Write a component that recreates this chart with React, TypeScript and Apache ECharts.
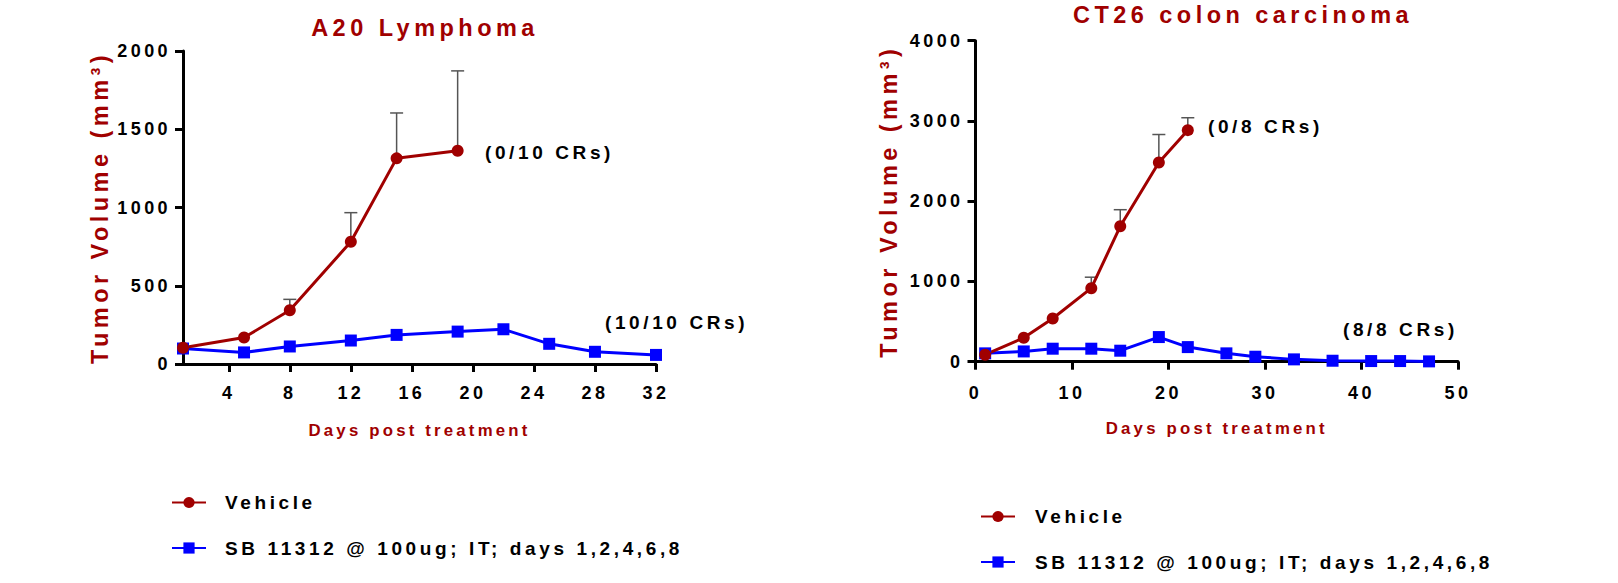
import React, { useEffect, useRef } from 'react';
import * as echarts from 'echarts';

const RED = '#a00000';
const BLUE = '#0000ff';
const ERR = '#555555';
const FONT = "'Liberation Sans', Arial, Helvetica, sans-serif";

const seriesNames = ['Vehicle', 'SB 11312 @ 100ug; IT; days 1,2,4,6,8'];
const panelTitles = ['A20 Lymphoma', 'CT26 colon carcinoma'];
const xAxisName = 'Days post treatment';
const yAxisName = 'Tumor Volume (mm³)';

// A20 Lymphoma
const a20VehicleDays = [1, 5, 8, 12, 15, 19];
const a20VehicleMean = [104, 169, 343, 781, 1314, 1363];
const a20VehicleUpper = [null, null, 413, 967, 1604, 1873];
const a20SbDays = [1, 5, 8, 12, 15, 19, 22, 25, 28, 32];
const a20SbMean = [99, 74, 112, 150, 186, 207, 222, 129, 78, 58];
const a20XMin = 1;
const a20XTicks = [4, 8, 12, 16, 20, 24, 28, 32];
const a20YTicks = [0, 500, 1000, 1500, 2000];
const a20Notes = ['(0/10 CRs)', '(10/10 CRs)'];

// CT26 colon carcinoma
const ct26VehicleDays = [1, 5, 8, 12, 15, 19, 22];
const ct26VehicleMean = [87, 298, 539, 916, 1687, 2483, 2885];
const ct26VehicleUpper = [null, null, null, 1053, 1894, 2831, 3040];
const ct26SbDays = [1, 5, 8, 12, 15, 19, 22, 26, 29, 33, 37, 41, 44, 47];
const ct26SbMean = [104, 128, 162, 162, 137, 307, 182, 104, 62, 29, 12, 8, 8, 4];
const ct26XTicks = [0, 10, 20, 30, 40, 50];
const ct26YTicks = [0, 1000, 2000, 3000, 4000];
const ct26Notes = ['(0/8 CRs)', '(8/8 CRs)'];

const pairs = (xs: number[], ys: number[]) => xs.map((x, i) => [x, ys[i]]);

function errorSeries(days: number[], mean: number[], upper: (number | null)[], idx: number) {
  const data: number[][] = [];
  days.forEach((d, i) => {
    const u = upper[i];
    if (u != null) data.push([d, mean[i], u]);
  });
  return {
    type: 'custom',
    xAxisIndex: idx,
    yAxisIndex: idx,
    z: 1,
    silent: true,
    clip: false,
    data,
    encode: { x: 0, y: [1, 2] },
    renderItem: (_params: any, api: any) => {
      const p0 = api.coord([api.value(0), api.value(1)]);
      const p1 = api.coord([api.value(0), api.value(2)]);
      const style = { stroke: ERR, lineWidth: 1.5 };
      return {
        type: 'group',
        children: [
          { type: 'line', shape: { x1: p0[0], y1: p0[1], x2: p1[0], y2: p1[1] }, style },
          { type: 'line', shape: { x1: p1[0] - 6.5, y1: p1[1], x2: p1[0] + 6.5, y2: p1[1] }, style },
        ],
      };
    },
  };
}

function lineSeries(name: string, data: number[][], idx: number, color: string, symbol: string) {
  return {
    type: 'line',
    name,
    xAxisIndex: idx,
    yAxisIndex: idx,
    data,
    z: 3,
    clip: false,
    symbol,
    symbolSize: 12,
    itemStyle: { color },
    lineStyle: { color, width: 3 },
  };
}

const axisCommon = {
  axisLine: { show: true, onZero: false, lineStyle: { color: '#000', width: 3 } },
  axisTick: { show: true, length: 8, lineStyle: { color: '#000', width: 3 } },
  splitLine: { show: false },
};

const plain = (v: number) => String(v);

function xAxis(idx: number, min: number, ticks: number[], margin: number) {
  return {
    type: 'value',
    gridIndex: idx,
    min,
    max: ticks[ticks.length - 1],
    name: xAxisName,
    nameLocation: 'middle',
    nameGap: 58,
    nameTextStyle: { color: RED, fontFamily: FONT, fontWeight: 'bold', fontSize: 16.8 },
    ...axisCommon,
    axisTick: { ...axisCommon.axisTick, customValues: ticks },
    axisLabel: {
      customValues: ticks,
      formatter: plain,
      margin,
      color: '#000',
      fontFamily: FONT,
      fontWeight: 'bold',
      fontSize: 18,
    },
  };
}

function yAxis(idx: number, ticks: number[], nameGap: number) {
  return {
    type: 'value',
    gridIndex: idx,
    min: ticks[0],
    max: ticks[ticks.length - 1],
    name: yAxisName,
    nameLocation: 'middle',
    nameGap,
    nameTextStyle: { color: RED, fontFamily: FONT, fontWeight: 'bold', fontSize: 23.5 },
    ...axisCommon,
    axisTick: { ...axisCommon.axisTick, customValues: ticks },
    axisLabel: {
      customValues: ticks,
      formatter: plain,
      margin: 12,
      color: '#000',
      fontFamily: FONT,
      fontWeight: 'bold',
      fontSize: 18,
    },
  };
}

function legend(left: number, top: number, pad: number) {
  return {
    data: seriesNames,
    orient: 'vertical',
    left,
    top,
    padding: 0,
    itemWidth: 34,
    itemHeight: 14,
    itemGap: 26.5,
    selectedMode: false,
    textStyle: {
      color: '#000',
      fontFamily: FONT,
      fontWeight: 'bold',
      fontSize: 19,
      lineHeight: 14,
      padding: [0, 0, 0, pad],
    },
  };
}

function note(text: string, x: number, y: number) {
  return {
    type: 'text',
    x,
    y,
    silent: true,
    style: {
      text,
      fill: '#000',
      font: `bold 19px ${FONT}`,
      align: 'left',
      verticalAlign: 'middle',
    },
  };
}

export default function App() {
  const ref = useRef<HTMLDivElement>(null);

  useEffect(() => {
    if (!ref.current) return;
    const chart = echarts.init(ref.current, undefined, { renderer: 'svg' });
    const option: any = {
      animation: false,
      backgroundColor: '#fff',
      title: [
        {
          text: panelTitles[0],
          left: 425,
          top: 15.75,
          textAlign: 'center',
          padding: 0,
          textStyle: { color: RED, fontFamily: FONT, fontWeight: 'bold', fontSize: 23.5 },
        },
        {
          text: panelTitles[1],
          left: 1243,
          top: 3.25,
          textAlign: 'center',
          padding: 0,
          textStyle: { color: RED, fontFamily: FONT, fontWeight: 'bold', fontSize: 23.5 },
        },
      ],
      grid: [
        { left: 183, top: 51, width: 473, height: 313 },
        { left: 975.5, top: 40.7, width: 482.5, height: 321 },
      ],
      xAxis: [xAxis(0, a20XMin, a20XTicks, 20), xAxis(1, ct26XTicks[0], ct26XTicks, 22.6)],
      yAxis: [yAxis(0, a20YTicks, 71), yAxis(1, ct26YTicks, 75)],
      legend: [legend(171, 493, 14), legend(980, 507, 15)],
      series: [
        errorSeries(a20VehicleDays, a20VehicleMean, a20VehicleUpper, 0),
        lineSeries(seriesNames[1], pairs(a20SbDays, a20SbMean), 0, BLUE, 'rect'),
        lineSeries(seriesNames[0], pairs(a20VehicleDays, a20VehicleMean), 0, RED, 'circle'),
        errorSeries(ct26VehicleDays, ct26VehicleMean, ct26VehicleUpper, 1),
        lineSeries(seriesNames[1], pairs(ct26SbDays, ct26SbMean), 1, BLUE, 'rect'),
        lineSeries(seriesNames[0], pairs(ct26VehicleDays, ct26VehicleMean), 1, RED, 'circle'),
      ],
      graphic: [
        note(a20Notes[0], 485, 152.7),
        note(a20Notes[1], 605, 322.7),
        note(ct26Notes[0], 1208, 126.5),
        note(ct26Notes[1], 1343, 329.3),
      ],
    };
    chart.setOption(option);
    return () => chart.dispose();
  }, []);

  return (
    <>
      <style>{`.chart-root text { letter-spacing: 0.19em; }`}</style>
      <div
        ref={ref}
        className="chart-root"
        style={{ position: 'absolute', left: 0, top: 0, width: 1618, height: 583 }}
      />
    </>
  );
}
